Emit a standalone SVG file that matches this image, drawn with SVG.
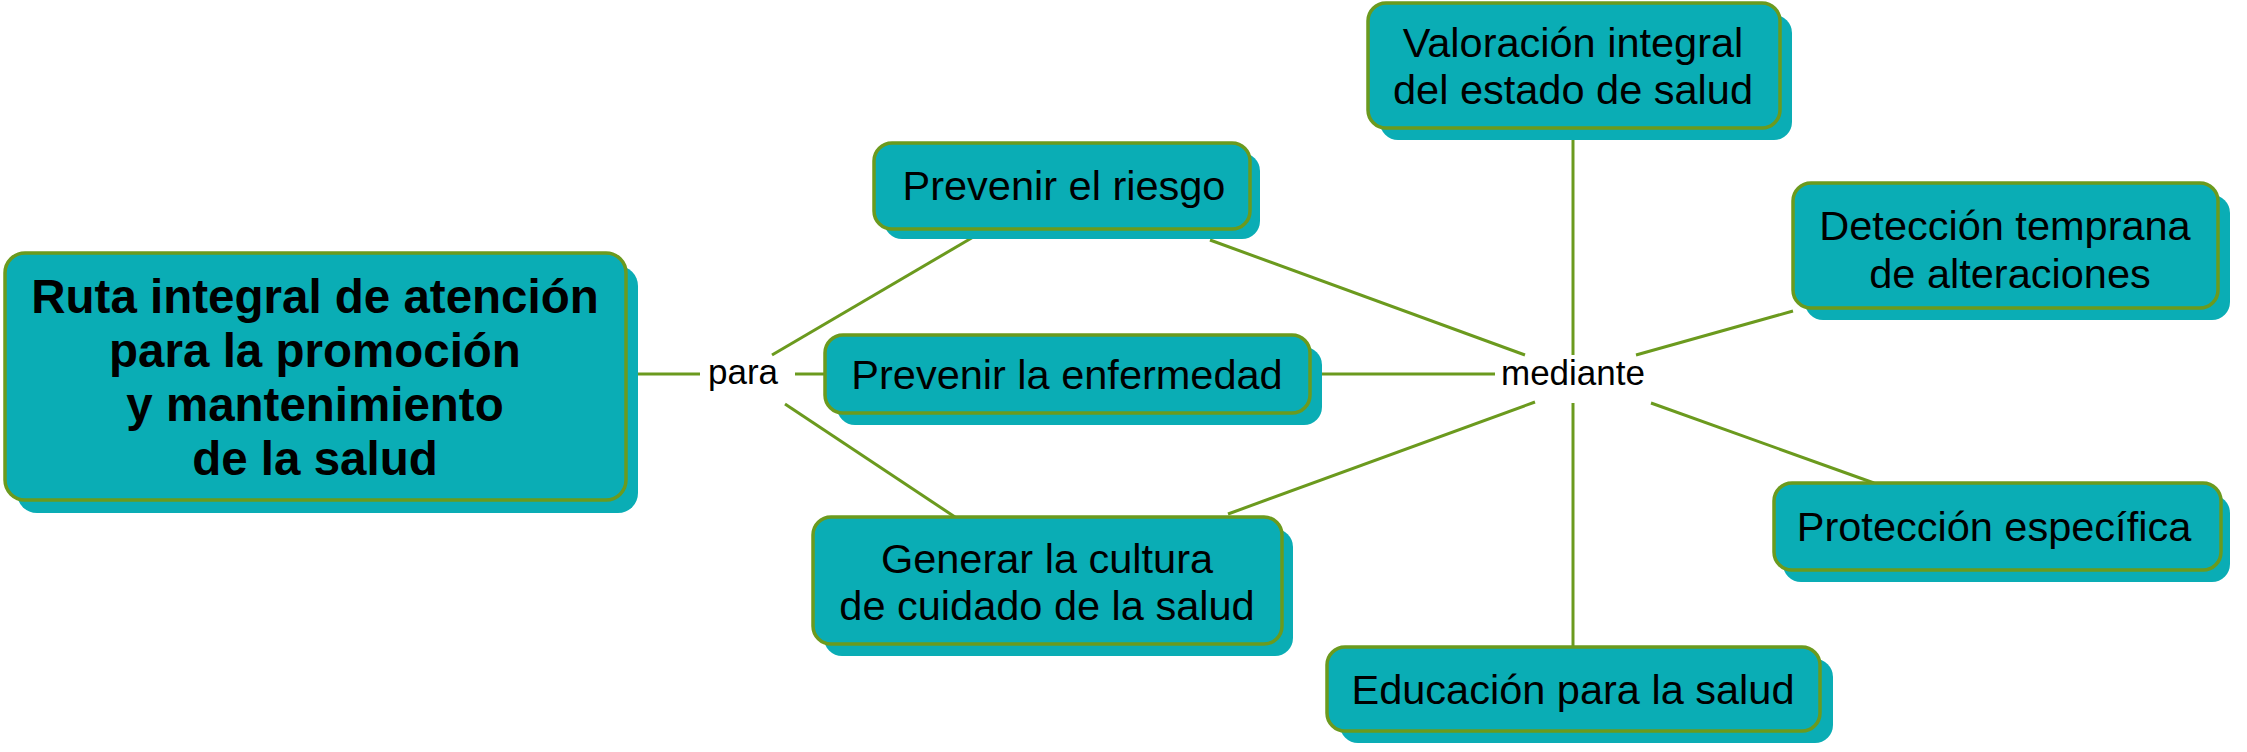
<svg xmlns="http://www.w3.org/2000/svg" width="2247" height="752" viewBox="0 0 2247 752">
<style>
.sh{fill:#0aadb5}
.bx{fill:#0aadb5;stroke:#6b9a1e;stroke-width:3.5}
.t{font-family:"Liberation Sans",Arial,Helvetica,sans-serif;font-size:41.5px;fill:#000;text-anchor:middle}
.b{font-weight:bold;font-size:47.5px}
.lk{font-size:35px}
.c line{stroke:#6b9a1e;stroke-width:3}
</style>
<rect width="2247" height="752" fill="#fff"/>
<g id="connectors" class="c">
<line x1="626" y1="374" x2="700" y2="374"/>
<line x1="772" y1="355" x2="975" y2="236"/>
<line x1="795" y1="374" x2="825" y2="374"/>
<line x1="785" y1="404" x2="955" y2="517"/>
<line x1="1210" y1="240" x2="1525" y2="355"/>
<line x1="1310" y1="374" x2="1495" y2="374"/>
<line x1="1228" y1="514" x2="1535" y2="402"/>
<line x1="1573" y1="355" x2="1573" y2="128"/>
<line x1="1636" y1="355" x2="1793" y2="311"/>
<line x1="1651" y1="403" x2="1874" y2="483"/>
<line x1="1573" y1="403" x2="1573" y2="647"/>
</g>
<g id="n-main">
<rect class="sh" x="17" y="266" width="621" height="247" rx="20"/>
<rect class="bx" x="5" y="253" width="621" height="247" rx="20"/>
<text class="t b" x="315" y="313">Ruta integral de atención</text>
<text class="t b" x="315" y="367">para la promoción</text>
<text class="t b" x="315" y="421">y mantenimiento</text>
<text class="t b" x="315" y="475">de la salud</text>
</g>
<g id="l-para">
<text class="t lk" x="743" y="384">para</text>
</g>
<g id="n-riesgo">
<rect class="sh" x="884" y="153" width="376" height="86" rx="18"/>
<rect class="bx" x="874" y="143" width="376" height="86" rx="18"/>
<text class="t" x="1064" y="200">Prevenir el riesgo</text>
</g>
<g id="n-enfermedad">
<rect class="sh" x="837" y="347" width="485" height="78" rx="18"/>
<rect class="bx" x="825" y="335" width="485" height="78" rx="18"/>
<text class="t" x="1067" y="389">Prevenir la enfermedad</text>
</g>
<g id="n-cultura">
<rect class="sh" x="824" y="529" width="469" height="127" rx="18"/>
<rect class="bx" x="813" y="517" width="469" height="127" rx="18"/>
<text class="t" x="1047" y="573">Generar la cultura</text>
<text class="t" x="1047" y="620">de cuidado de la salud</text>
</g>
<g id="l-mediante">
<text class="t lk" x="1573" y="385">mediante</text>
</g>
<g id="n-valoracion">
<rect class="sh" x="1380" y="15" width="412" height="125" rx="18"/>
<rect class="bx" x="1368" y="3" width="412" height="125" rx="18"/>
<text class="t" x="1573" y="57">Valoración integral</text>
<text class="t" x="1573" y="104">del estado de salud</text>
</g>
<g id="n-deteccion">
<rect class="sh" x="1805" y="195" width="425" height="125" rx="18"/>
<rect class="bx" x="1793" y="183" width="425" height="125" rx="18"/>
<text class="t" x="2005" y="240">Detección temprana</text>
<text class="t" x="2010" y="288">de alteraciones</text>
</g>
<g id="n-proteccion">
<rect class="sh" x="1783" y="495" width="447" height="87" rx="18"/>
<rect class="bx" x="1774" y="483" width="447" height="87" rx="18"/>
<text class="t" x="1994" y="541">Protección específica</text>
</g>
<g id="n-educacion">
<rect class="sh" x="1340" y="659" width="493" height="84" rx="18"/>
<rect class="bx" x="1327" y="647" width="493" height="84" rx="18"/>
<text class="t" x="1573" y="704">Educación para la salud</text>
</g>
</svg>
